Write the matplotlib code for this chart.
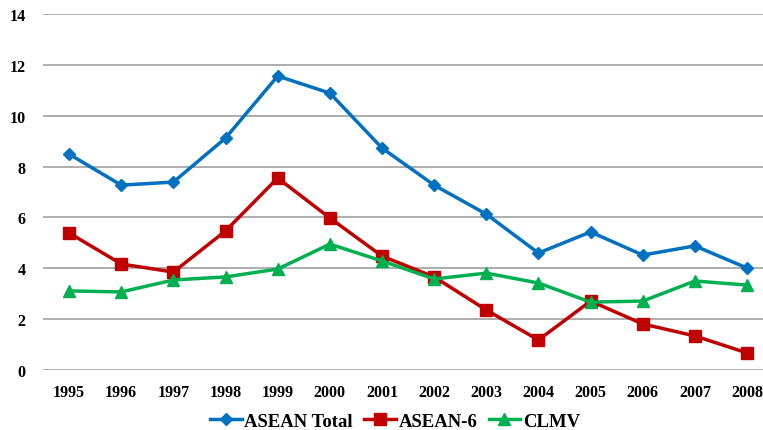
import numpy as np
import matplotlib.pyplot as plt

years = ["1995", "1996", "1997", "1998", "1999", "2000", "2001",
         "2002", "2003", "2004", "2005", "2006", "2007", "2008"]
asean_total = [8.49, 7.27, 7.39, 9.12, 11.56, 10.89, 8.73,
               7.27, 6.13, 4.60, 5.43, 4.52, 4.88, 4.01]
asean_6 = [5.39, 4.17, 3.85, 5.47, 7.55, 5.98, 4.48,
           3.66, 2.36, 1.18, 2.71, 1.81, 1.34, 0.67]
clmv = [3.11, 3.07, 3.54, 3.66, 3.97, 4.95, 4.29,
        3.58, 3.81, 3.42, 2.67, 2.71, 3.50, 3.34]

plt.rcParams['font.family'] = ['Liberation Serif', 'DejaVu Serif']
plt.rcParams['font.weight'] = 'bold'

fig = plt.figure(figsize=(7.63, 4.31), dpi=100)
ax = fig.add_axes([43 / 763, 60 / 431, 720 / 763, 356 / 431])

x = np.arange(len(years))
ax.plot(x, asean_total, color="#0070C0", lw=2.5, marker="D", ms=6,
        label="ASEAN Total")
ax.plot(x, asean_6, color="#C00000", lw=2.5, marker="s", ms=9,
        label="ASEAN-6")
ax.plot(x, clmv, color="#00B050", lw=2.5, marker="^", ms=9,
        label="CLMV")

ax.set_ylim(0, 14)
ax.set_yticks(range(0, 15, 2))
ax.set_xlim(-0.5, 13.306)
ax.set_xticks(x)
ax.set_xticklabels(years)
ax.grid(axis="y", color="#A0A0A0", lw=1.2)
ax.set_axisbelow(True)
for s in ax.spines.values():
    s.set_visible(False)
ax.tick_params(length=0, labelsize=11.5, pad=10)
ax.tick_params(axis="y", pad=12.5)

# legend centred a bit right of the figure middle, like the original
fig.legend(loc="center", bbox_to_anchor=(395 / 763, 9 / 431), ncol=3,
           frameon=False, fontsize=13.5, handlelength=1.7,
           columnspacing=0.6, handletextpad=0.12)

fig.savefig("out.png", dpi=100)
